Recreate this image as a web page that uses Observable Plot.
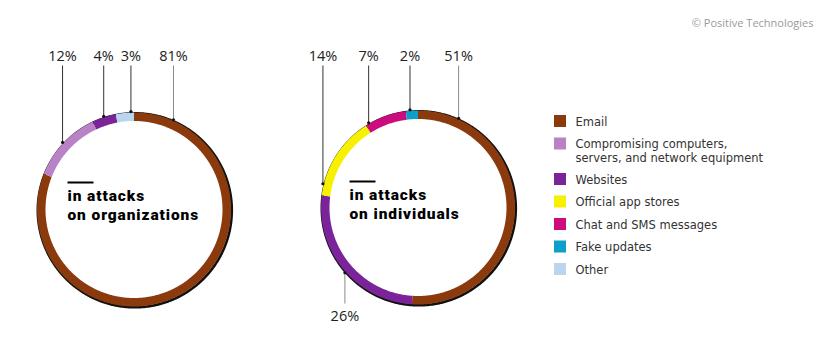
<!DOCTYPE html>
<html>
<head>
<meta charset="utf-8">
<script src="https://cdn.jsdelivr.net/npm/d3@7"></script>
<script src="https://cdn.jsdelivr.net/npm/@observablehq/plot@0.6"></script>
<style>
  html, body { margin: 0; padding: 0; background: #fff; }
  #chart { width: 822px; height: 353px; }
  g[font-family^="Roboto"] text { letter-spacing: 0.9px; }
</style>
</head>
<body>
<div id="chart"></div>
<script>
// ---- data ----
const categories = [
  "Email",
  "Compromising computers,\nservers, and network equipment",
  "Websites",
  "Official app stores",
  "Chat and SMS messages",
  "Fake updates",
  "Other"
];
const colors = ["#8a3a0c", "#b982c6", "#7b2399", "#f7f000", "#cc0b7e", "#0aa0c8", "#bad6ef"];
const orgShares = [81, 12, 4, 0, 0, 0, 3];
const indShares = [51, 0, 26, 14, 7, 2, 0];
// where (in % of the ring, clockwise from top) each label's leader line meets the ring
const orgLeaderAt = [6.6, 87, 95, null, null, null, 99.5];
const indLeaderAt = [6.8, null, 63.4, 78.9, 91.6, 98.7, null];
const orgTitle = "in attacks\non organizations";
const indTitle = "in attacks\non individuals";
const credit = "© Positive Technologies";

// ---- layout ----
const W = 822, H = 353;
const donuts = [
  {shares: orgShares, leader: orgLeaderAt, title: orgTitle, cx: 133.5, cy: 209, textX: 67, textY: 195},
  {shares: indShares, leader: indLeaderAt, title: indTitle, cx: 417.5, cy: 207, textX: 349, textY: 194}
];
const rIn = 88.5, rOut = 97;
const rMid = (rIn + rOut) / 2;
const pt = (cx, cy, r, frac) => {
  const a = frac * 2 * Math.PI;
  return [cx + r * Math.sin(a), cy - r * Math.cos(a)];
};

const arcPts = [], shadowPts = [], leaders = [], labels = [], dots = [], titles = [], bars = [];
donuts.forEach((d, di) => {
  for (let k = 0; k <= 720; k++) {
    const [x, y] = pt(d.cx, d.cy, rOut, k / 720);
    shadowPts.push({x, y, key: "s" + di});
  }
  let acc = 0;
  d.shares.forEach((v, i) => {
    if (!v) return;
    const f0 = acc / 100, f1 = (acc + v) / 100;
    acc += v;
    const n = Math.max(2, Math.ceil((f1 - f0) * 720));
    for (let k = 0; k <= n; k++) {
      const [x, y] = pt(d.cx, d.cy, rMid, f0 + (f1 - f0) * k / n);
      arcPts.push({x, y, cat: categories[i], key: di + "-" + i});
    }
    const at = d.leader[i] / 100;
    const [lx, ly] = pt(d.cx, d.cy, rOut + 1, at);
    const below = ly > d.cy;
    const gray = i === 0 || below;
    leaders.push({x: lx, y1: ly, y2: below ? 303 : 65, gray});
    dots.push({x: lx, y: ly});
    labels.push({x: lx, y: below ? 316 : 56, text: v + "%"});
  });
  titles.push({x: d.textX, y: d.textY + 9, text: d.title});
  bars.push({x1: d.textX, x2: d.textX + 26, y: d.textY - 13});
});

// legend
const legend = [];
let ly = 121;
categories.forEach((c) => {
  const extra = c.split("\n").length - 1;
  legend.push({cat: c, y: ly, ty: ly + extra * 7, text: c});
  ly += 22.5 + extra * 13;
});

const color = {type: "ordinal", domain: categories, range: colors};

const chart = Plot.plot({
  width: W, height: H,
  margin: 0,
  x: {domain: [0, W], range: [0, W], axis: null},
  y: {domain: [0, H], range: [0, H], axis: null},
  color,
  style: {background: "#fff", fontFamily: "'Open Sans', sans-serif"},
  marks: [
    Plot.link(leaders, {x1: "x", x2: "x", y1: "y1", y2: "y2", stroke: d => d.gray ? "#8a8a8a" : "#333", strokeWidth: 1}),
    Plot.line(shadowPts, {x: "x", y: "y", z: "key", stroke: "#111", strokeWidth: 2.6, dx: 0.8, dy: 0.8, curve: "linear"}),
    Plot.line(arcPts, {x: "x", y: "y", z: "key", stroke: "cat", strokeWidth: rOut - rIn, strokeLinecap: "butt", curve: "linear"}),
    Plot.dot(dots, {x: "x", y: "y", r: 1.6, fill: "#111"}),
    Plot.text(labels, {x: "x", y: "y", text: "text", fontSize: 14.5, fill: "#222", fontFamily: "'Open Sans', sans-serif"}),
    Plot.link(bars, {x1: "x1", x2: "x2", y1: "y", y2: "y", stroke: "#000", strokeWidth: 2}),
    Plot.text(titles, {x: "x", y: "y", text: "text", textAnchor: "start", lineAnchor: "middle", lineHeight: 18.5 / 15.5, fontSize: 15.5, fontWeight: 900, fill: "#000", fontFamily: "Roboto, sans-serif"}),
    Plot.rect(legend, {x1: 554, x2: 566, y1: d => d.y - 6, y2: d => d.y + 6, fill: "cat"}),
    Plot.text(legend, {x: 575, y: "ty", text: "text", textAnchor: "start", lineAnchor: "middle", lineHeight: 14 / 11.5, fontSize: 11.5, fill: "#333", fontFamily: "'DejaVu Sans', sans-serif"}),
    Plot.text([credit], {x: 813, y: 23, text: d => d, textAnchor: "end", fontSize: 11, fill: "#9a9a9a", fontFamily: "'Open Sans', sans-serif"})
  ]
});
document.getElementById("chart").appendChild(chart);
</script>
</body>
</html>
